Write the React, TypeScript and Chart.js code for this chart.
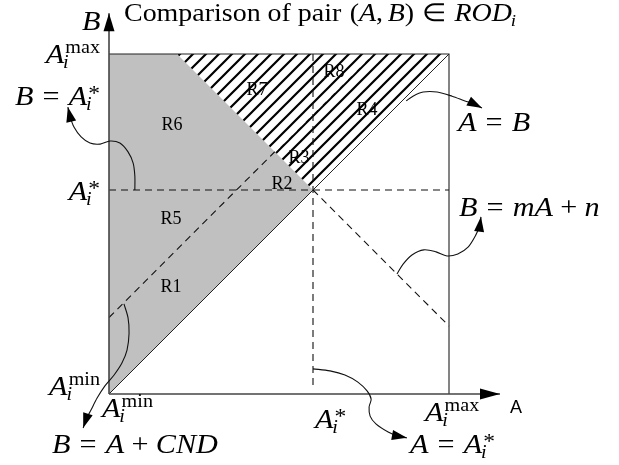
import React, { useEffect, useRef } from "react";
import { Chart, registerables } from "chart.js";

Chart.register(...registerables);

// ---------- diagram values (A on the horizontal axis, B on the vertical) ----------
const aMin = 0;
const aStar = 6;
const aMax = 10;
const cnd = 2.25; // B = A + CND
const mSlope = -1; // B = mA + n  (passes through (A*, A*))
const nIntercept = 12;
const tickKeys = ["min", "*", "max"];
const tickValues = [aMin, aStar, aMax];
const axisTipA = 11.5;
const axisTipB = 11.2;
const vDashEnd = 0.18;

const regionNames = ["R1", "R2", "R3", "R4", "R5", "R6", "R7", "R8"];
const regionA = [1.82, 5.09, 5.59, 7.59, 1.82, 1.85, 4.35, 6.62];
const regionB = [3.15, 6.18, 6.94, 8.35, 5.15, 7.91, 8.94, 9.47];

// leader curves of the annotations (last point = arrow tip)
const leaderBStar = [[0.76, 6.0], [0.76, 6.41], [0.71, 6.79], [0.56, 7.12], [0.32, 7.38], [0.03, 7.44], [-0.26, 7.35], [-0.56, 7.38], [-0.82, 7.56], [-1.03, 7.85], [-1.15, 8.18], [-1.21, 8.44]];
const leaderAB = [[8.74, 8.62], [8.94, 8.76], [9.24, 8.88], [9.65, 8.88], [10.09, 8.76], [10.47, 8.62], [10.74, 8.53], [10.97, 8.41]];
const leaderMN = [[8.47, 3.53], [8.65, 3.82], [8.91, 4.09], [9.26, 4.24], [9.62, 4.18], [9.94, 4.06], [10.26, 4.12], [10.56, 4.32], [10.79, 4.68], [10.91, 4.97], [10.94, 5.21]];
const leaderAStar = [[6.0, 0.74], [6.5, 0.68], [6.94, 0.56], [7.32, 0.35], [7.59, 0.09], [7.71, -0.15], [7.65, -0.38], [7.68, -0.65], [7.85, -0.88], [8.21, -1.12], [8.5, -1.24], [8.76, -1.29]];
const leaderCND = [[0.44, 2.65], [0.56, 2.24], [0.59, 1.79], [0.53, 1.29], [0.38, 0.91], [0.15, 0.56], [-0.12, 0.24], [-0.35, -0.12], [-0.53, -0.47], [-0.68, -0.76], [-0.76, -1.0]];

// view window of the canvas in diagram units
const xRange = [-3.206, 15.0];
const yRange = [-2.088, 11.588];

// ---------- text helpers ----------
const SERIF = "'Liberation Serif', 'Times New Roman', serif";
const MATH_SX = 1.12;
const MATH_SIZE = 27;
type Tok = { t?: string; it?: boolean; sup?: string; sub?: string; gap?: number };

function runMath(ctx: CanvasRenderingContext2D, toks: Tok[], size: number, draw: boolean) {
  let cx = 0;
  const small = Math.round(size * 0.68);
  for (const k of toks) {
    if (k.gap) cx += k.gap * size;
    if (k.t) {
      ctx.font = `${k.it ? "italic " : ""}${size}px ${SERIF}`;
      if (draw) ctx.fillText(k.t, cx, 0);
      cx += ctx.measureText(k.t).width;
    }
    if (k.sup || k.sub) {
      let w = 0;
      if (k.sup) {
        const star = k.sup === "*";
        ctx.font = `${star ? Math.round(size * 0.78) : small}px ${SERIF}`;
        if (draw) ctx.fillText(k.sup, cx + 1, star ? -size * 0.17 : -size * 0.37);
        w = Math.max(w, ctx.measureText(k.sup).width + 1);
      }
      if (k.sub) {
        ctx.font = `italic ${small}px ${SERIF}`;
        if (draw) ctx.fillText(k.sub, cx - 1, size * 0.2);
        w = Math.max(w, ctx.measureText(k.sub).width - 1);
      }
      cx += w;
    }
  }
  return cx;
}

// align: 0 = left edge at x, 1 = right edge at x
function drawMath(ctx: CanvasRenderingContext2D, toks: Tok[], x: number, baseline: number, size: number, align = 0, fitWidth?: number) {
  const natural = runMath(ctx, toks, size, false);
  const sx = fitWidth ? fitWidth / natural : MATH_SX;
  const w = natural * sx;
  ctx.save();
  ctx.translate(align ? x - w : x, baseline);
  ctx.scale(sx, 1);
  runMath(ctx, toks, size, true);
  ctx.restore();
}

const tickTok = (key: string): Tok[] => [{ t: "A", it: true, sup: key, sub: "i" }];

const arrowPlugin = {
  id: "arrowHeads",
  afterDatasetsDraw(chart: any) {
    const ctx = chart.ctx as CanvasRenderingContext2D;
    chart.data.datasets.forEach((ds: any, i: number) => {
      if (!ds.arrow) return;
      const pts = chart.getDatasetMeta(i).data;
      const tip = pts[pts.length - 1];
      const prev = pts[pts.length - 2];
      let dx = tip.x - prev.x;
      let dy = tip.y - prev.y;
      const d = Math.hypot(dx, dy) || 1;
      dx /= d;
      dy /= d;
      const [len, hw] = ds.arrow;
      const bx = tip.x - dx * len;
      const by = tip.y - dy * len;
      ctx.save();
      ctx.fillStyle = "#000";
      ctx.beginPath();
      ctx.moveTo(tip.x, tip.y);
      ctx.lineTo(bx - dy * hw, by + dx * hw);
      ctx.lineTo(bx + dy * hw, by - dx * hw);
      ctx.closePath();
      ctx.fill();
      ctx.restore();
    });
  },
};

const textPlugin = {
  id: "diagramText",
  afterDraw(chart: any) {
    const ctx = chart.ctx as CanvasRenderingContext2D;
    const xs = chart.scales.x;
    const ys = chart.scales.y;
    ctx.save();
    ctx.fillStyle = "#000";
    ctx.textBaseline = "alphabetic";
    ctx.textAlign = "left";

    // title
    drawMath(
      ctx,
      [
        { t: "Comparison of pair" },
        { gap: 0.3, t: "(" },
        { t: "A", it: true },
        { t: "," },
        { gap: 0.17, t: "B", it: true },
        { t: ")" },
        { gap: 0.28, t: "\u2208" },
        { gap: 0.28, t: "ROD", it: true, sub: "i" },
      ],
      124,
      21,
      25,
      0,
      392
    );

    // axis names
    drawMath(ctx, [{ t: "B", it: true }], xs.getPixelForValue(aMin) - 27, 30, MATH_SIZE);
    ctx.font = "18px 'Liberation Sans', Arial, sans-serif";
    ctx.fillText("A", xs.getPixelForValue(axisTipA) + 10, ys.getPixelForValue(aMin) + 19);

    // tick labels on the B axis (left)
    const leftBase = [1, 10, 9];
    tickKeys.forEach((k, i) => {
      drawMath(ctx, tickTok(k), xs.getPixelForValue(aMin) - 9, ys.getPixelForValue(tickValues[i]) + leftBase[i], MATH_SIZE, 1);
    });
    // tick labels on the A axis (bottom)
    const botDx = [-7, 2, -24];
    const botBase = [417, 428, 421];
    tickKeys.forEach((k, i) => {
      drawMath(ctx, tickTok(k), xs.getPixelForValue(tickValues[i]) + botDx[i], botBase[i], MATH_SIZE);
    });

    // annotations
    drawMath(ctx, [{ t: "B", it: true }, { gap: 0.3, t: "=" }, { gap: 0.3, t: "A", it: true, sup: "*", sub: "i" }], 15, 105, MATH_SIZE);
    drawMath(ctx, [{ t: "A", it: true }, { gap: 0.3, t: "=" }, { gap: 0.3, t: "B", it: true }], 458, 131, MATH_SIZE);
    drawMath(
      ctx,
      [{ t: "B", it: true }, { gap: 0.3, t: "=" }, { gap: 0.3, t: "mA", it: true }, { gap: 0.24, t: "+" }, { gap: 0.24, t: "n", it: true }],
      459,
      216,
      MATH_SIZE
    );
    drawMath(ctx, [{ t: "A", it: true }, { gap: 0.3, t: "=" }, { gap: 0.3, t: "A", it: true, sup: "*", sub: "i" }], 410, 453, MATH_SIZE);
    drawMath(
      ctx,
      [{ t: "B", it: true }, { gap: 0.3, t: "=" }, { gap: 0.3, t: "A", it: true }, { gap: 0.24, t: "+" }, { gap: 0.24, t: "CND", it: true }],
      52,
      453,
      MATH_SIZE
    );

    // region names
    ctx.font = `18px ${SERIF}`;
    ctx.textAlign = "center";
    ctx.textBaseline = "middle";
    regionNames.forEach((n, i) => {
      ctx.fillText(n, xs.getPixelForValue(regionA[i]), ys.getPixelForValue(regionB[i]));
    });
    ctx.restore();
  },
};

const pts = (arr: number[][]) => arr.map(([x, y]) => ({ x, y }));

export default function App() {
  const ref = useRef<HTMLCanvasElement>(null);

  useEffect(() => {
    const canvas = ref.current!;
    const tile = document.createElement("canvas");
    tile.width = 13;
    tile.height = 13;
    const tc = tile.getContext("2d")!;
    tc.strokeStyle = "#000";
    tc.lineWidth = 2.2;
    tc.beginPath();
    tc.moveTo(-3, 16);
    tc.lineTo(16, -3);
    tc.moveTo(-3, 3);
    tc.lineTo(3, -3);
    tc.moveTo(10, 16);
    tc.lineTo(16, 10);
    tc.stroke();
    const hatch = canvas.getContext("2d")!.createPattern(tile, "repeat")!;

    // derived corner points
    const aTop = (aMax - nIntercept) / mSlope; // where B = mA + n meets B = Amax
    const bRight = mSlope * aMax + nIntercept; // where it meets A = Amax
    const aCross = (nIntercept - cnd) / (1 - mSlope);
    const bCross = aCross + cnd;

    const base = { showLine: true, pointRadius: 0, borderColor: "#222", borderWidth: 1.1, fill: false, tension: 0 };
    const dash = { ...base, borderColor: "#111", borderDash: [7, 5], borderWidth: 1.1 };
    const leader = { ...base, borderColor: "#111", borderWidth: 1.1, tension: 0.3, arrow: [15, 5] };

    const datasets: any[] = [
      { ...leader, data: pts(leaderBStar) },
      { ...leader, data: pts(leaderAB) },
      { ...leader, data: pts(leaderMN) },
      { ...leader, data: pts(leaderAStar) },
      { ...leader, data: pts(leaderCND) },
      { ...base, borderColor: "#444", borderWidth: 1.6, data: pts([[aMin, aMin], [axisTipA, aMin]]), arrow: [20, 5.5] },
      { ...base, borderColor: "#444", borderWidth: 1.6, data: pts([[aMin, aMin], [aMin, axisTipB]]), arrow: [18, 5.5] },
      { ...base, data: pts([[aMin, aMax], [aMax, aMax], [aMax, aMin]]) },
      { ...base, borderWidth: 1, data: pts([[aMin, aMin], [aMax, aMax]]) },
      { ...dash, data: pts([[aMin, aStar], [aMax, aStar]]) },
      { ...dash, data: pts([[aStar, aMax], [aStar, vDashEnd]]) },
      { ...dash, data: pts([[aStar, aStar], [aMax, bRight]]) },
      { ...dash, data: pts([[aMin, cnd], [aCross, bCross]]) },
      { ...dash, borderColor: "rgba(255,255,255,0.85)", borderWidth: 1.6, data: pts([[aCross, bCross], [aMax - cnd, aMax]]) },
      { ...base, borderWidth: 0, borderColor: "rgba(0,0,0,0)", backgroundColor: hatch, fill: "shape", data: pts([[aTop, aMax], [aMax, aMax], [aStar, aStar], [aTop, aMax]]) },
      { ...base, borderWidth: 0, borderColor: "rgba(0,0,0,0)", backgroundColor: "#c0c0c0", fill: "shape", data: pts([[aMin, aMin], [aMin, aMax], [aTop, aMax], [aStar, aStar], [aMin, aMin]]) },
    ];

    const chart = new Chart(canvas, {
      type: "line",
      data: { datasets },
      options: {
        animation: false,
        responsive: false,
        devicePixelRatio: 1,
        events: [],
        layout: { padding: 0 },
        plugins: { legend: { display: false }, tooltip: { enabled: false }, title: { display: false } },
        scales: {
          x: { type: "linear", min: xRange[0], max: xRange[1], display: false },
          y: { type: "linear", min: yRange[0], max: yRange[1], display: false },
        },
      },
      plugins: [arrowPlugin, textPlugin],
    } as any);
    return () => chart.destroy();
  }, []);

  return (
    <div style={{ position: "absolute", left: 0, top: 0, width: 619, height: 465, background: "#fff" }}>
      <canvas ref={ref} width={619} height={465} style={{ display: "block" }} />
    </div>
  );
}
